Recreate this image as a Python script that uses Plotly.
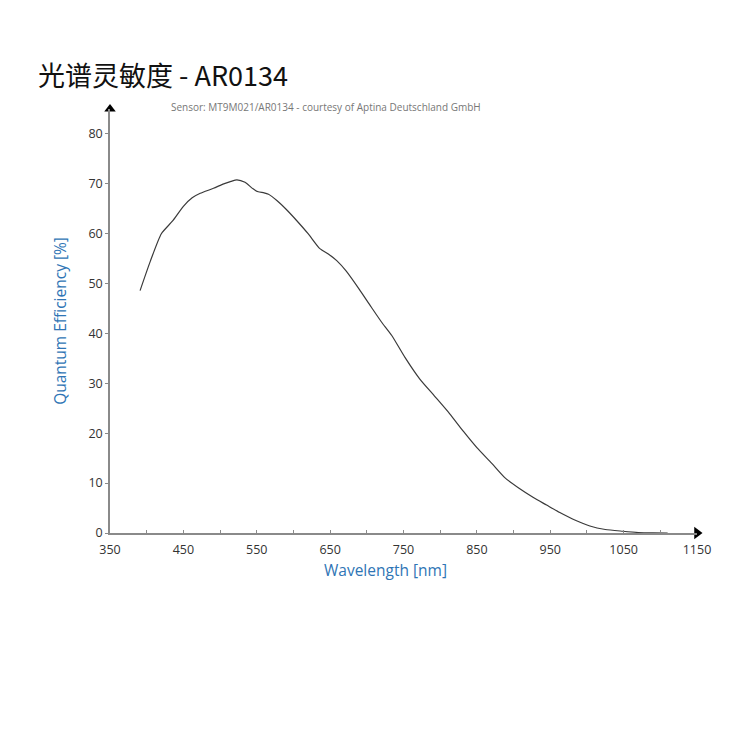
import plotly.graph_objects as go

wavelength_nm = [391, 405, 420, 435, 450, 462, 473, 491, 505, 515, 523, 534, 545, 552, 560, 566, 577, 590, 604, 620, 636, 648, 659, 672, 690, 706, 720, 734, 752, 772, 792, 813, 832, 850, 870, 888, 908, 927, 945, 963, 985, 1004, 1025, 1049, 1070, 1090, 1110]
quantum_eff = [48.6, 54.5, 60.0, 62.5, 65.5, 67.2, 68.1, 69.1, 70.0, 70.5, 70.8, 70.3, 69.0, 68.4, 68.2, 67.9, 66.7, 64.9, 62.7, 60.0, 57.0, 55.9, 54.6, 52.5, 48.8, 45.3, 42.3, 39.6, 35.2, 30.9, 27.5, 23.9, 20.3, 17.1, 14.0, 11.1, 8.9, 7.1, 5.6, 4.1, 2.5, 1.4, 0.7, 0.35, 0.1, 0.02, 0.0]

x_ticks = [350, 450, 550, 650, 750, 850, 950, 1050, 1150]
y_ticks = [0, 10, 20, 30, 40, 50, 60, 70, 80]

axis_color = "#8a8a8a"
label_blue = "#2f75b5"

fig = go.Figure()
fig.add_trace(go.Scatter(
    x=wavelength_nm, y=quantum_eff, mode="lines",
    line=dict(color="#3a3a3a", width=1.2, shape="spline", smoothing=0.6),
    hoverinfo="x+y", showlegend=False,
))
# axis arrowheads
fig.add_trace(go.Scatter(
    x=[1150], y=[0], mode="markers", cliponaxis=False,
    marker=dict(symbol="triangle-right", size=11, color="black"),
    hoverinfo="skip", showlegend=False,
))
fig.add_trace(go.Scatter(
    x=[350], y=[85], mode="markers", cliponaxis=False,
    marker=dict(symbol="triangle-up", size=10, color="black"),
    hoverinfo="skip", showlegend=False,
))

fig.update_layout(
    width=750, height=750,
    margin=dict(l=110, r=53, t=109, b=217),
    paper_bgcolor="white", plot_bgcolor="white",
    font=dict(family="Open Sans, Noto Sans CJK SC, sans-serif", color="#333333", size=12),
    xaxis=dict(
        range=[350, 1150], tickmode="array", tickvals=x_ticks,
        ticktext=[str(v) for v in x_ticks],
        showgrid=False, zeroline=False, showline=True,
        linecolor=axis_color, linewidth=1.5,
        ticks="inside", ticklen=3, tickcolor=axis_color, tickwidth=1,
        minor=dict(dtick=50, ticks="inside", ticklen=3, tickcolor=axis_color, tickwidth=1),
        tickfont=dict(size=12.5, color="#333333"),
        ticklabelstandoff=4,
    ),
    yaxis=dict(
        range=[0, 85], tickmode="array", tickvals=y_ticks,
        ticktext=[str(v) for v in y_ticks],
        showgrid=False, zeroline=False, showline=True,
        linecolor=axis_color, linewidth=1.5,
        ticks="outside", ticklen=3, tickcolor=axis_color, tickwidth=1,
        tickfont=dict(size=12.5, color="#333333"),
        title=dict(text="Quantum Efficiency [%]", font=dict(size=15.5, color=label_blue), standoff=18),
    ),
    annotations=[
        dict(text="光谱灵敏度 - AR0134", xref="paper", yref="paper",
             x=(36 - 110) / 587, y=1 + (109 - 75) / 424, xanchor="left", yanchor="middle",
             showarrow=False,
             font=dict(size=27, color="#111111",
                       family="Noto Sans CJK SC, Open Sans, sans-serif")),
        dict(text="Sensor: MT9M021/AR0134 - courtesy of Aptina Deutschland GmbH",
             xref="paper", yref="paper", x=(326 - 110) / 587, y=1 + (109 - 107) / 424,
             xanchor="center", yanchor="middle", showarrow=False,
             font=dict(size=10, color="#777777")),
        dict(text="Wavelength [nm]", xref="paper", yref="paper",
             x=(385 - 110) / 587, y=-(570 - 533) / 424, xanchor="center", yanchor="middle",
             showarrow=False, font=dict(size=15.5, color=label_blue)),
    ],
)

fig.write_html("out.html")
